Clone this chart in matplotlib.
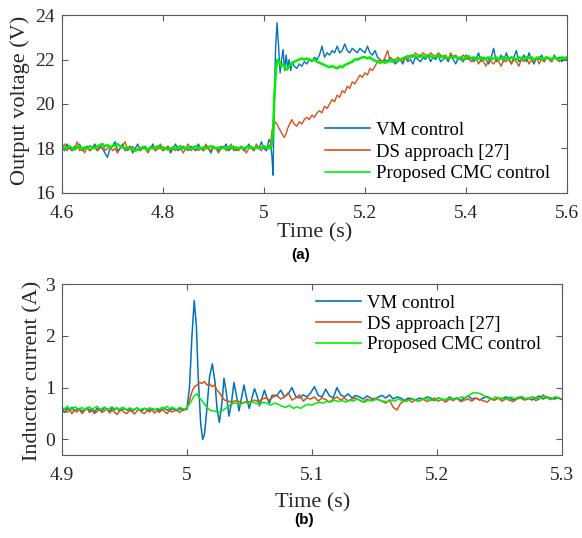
import numpy as np
import matplotlib
matplotlib.use('Agg')
import matplotlib.pyplot as plt

plt.rcParams['font.family'] = ['Liberation Serif', 'DejaVu Serif']

# colours (MATLAB default order, bright green for the proposed method)
c_vm = '#0072BD'
c_ds = '#D95319'
c_cmc = '#00F000'
labels = ['VM control', 'DS approach [27]', 'Proposed CMC control']

# ---------------- (a) output voltage ----------------
top_dt = 0.005

vm_v_pre = [18.1, 17.9, 18.2, 18.0, 17.9, 18.1, 18.0, 18.2, 17.9, 18.0,
            18.1, 17.9, 18.0, 18.2, 17.9, 18.1, 18.0, 17.8, 17.6, 18.0,
            18.1, 18.3, 17.9, 18.0, 18.2, 17.9, 18.0, 18.1, 17.8, 18.0,
            18.2, 17.9, 18.0, 18.1, 17.9, 18.0, 18.2, 17.9, 18.0, 18.1,
            17.9, 18.0, 18.1, 17.8, 18.0, 18.2, 17.9, 18.0, 18.1, 18.0,
            17.9, 18.1, 18.0, 17.9, 18.2, 18.0, 17.9, 18.1, 18.0, 17.8,
            18.1, 18.0, 17.9, 18.1, 18.0, 18.2, 17.9, 18.0, 18.1, 17.9,
            18.0, 18.1, 17.9, 18.0, 18.2, 18.0, 17.9, 18.1, 18.0, 18.3,
            18.0, 17.9, 18.4]
vm_t_step = [5.013, 5.016, 5.018, 5.020, 5.023, 5.026, 5.029, 5.032, 5.035, 5.038,
             5.041, 5.044, 5.047, 5.050, 5.053, 5.056, 5.060]
vm_v_step = [18.3, 17.6, 16.8, 19.5, 22.5, 23.65, 22.6, 21.4, 22.0, 22.45,
             21.5, 22.2, 21.6, 22.0, 21.5, 21.9, 21.7]
vm_v_post = [21.6, 21.8, 21.7, 21.9, 21.8, 22.0, 21.9, 22.1, 22.0, 22.2,
             22.6, 22.1, 22.3, 22.2, 22.4, 22.3, 22.6, 22.3, 22.4, 22.7,
             22.4, 22.3, 22.5, 22.4, 22.3, 22.5, 22.4, 22.3, 22.6, 22.3,
             22.2, 22.4, 22.1, 22.0, 21.9, 22.0, 21.9, 22.1, 22.0, 21.8,
             21.9, 22.0, 21.8, 22.1, 21.9, 22.0, 21.8, 22.1, 22.0, 21.9,
             22.1, 22.0, 22.2, 21.9, 22.1, 22.0, 22.2, 21.9, 22.0, 22.1,
             21.9, 22.2, 22.0, 21.8, 22.1, 22.0, 21.9, 22.2, 22.0, 22.1,
             21.9, 22.0, 22.3, 21.9, 22.1, 22.0, 21.8, 22.1, 22.5, 21.9,
             22.0, 22.2, 21.9, 22.3, 22.0, 21.8, 22.1, 22.4, 21.9, 22.0,
             22.2, 21.9, 22.3, 22.0, 21.8, 22.1, 22.0, 22.2, 21.9, 22.1,
             22.0, 21.9, 22.2, 22.0, 22.1, 21.9, 22.1, 22.0]

ds_v_pre = [18.0, 18.2, 17.9, 18.1, 17.9, 18.0, 18.3, 17.9, 18.0, 17.8,
            18.1, 17.9, 18.0, 18.1, 17.9, 18.0, 18.2, 17.9, 18.0, 18.1,
            17.9, 18.0, 17.8, 18.0, 18.1, 18.3, 17.9, 18.0, 18.1, 17.9,
            18.0, 17.9, 18.1, 18.0, 17.8, 18.0, 18.1, 17.9, 18.0, 18.2,
            17.9, 18.0, 18.1, 17.9, 18.0, 17.9, 18.1, 18.0, 17.8, 18.0,
            18.2, 17.9, 18.0, 18.1, 17.9, 18.0, 17.9, 18.2, 18.0, 17.9,
            18.1, 18.0, 17.8, 18.0, 18.1, 17.9, 18.0, 18.2, 17.9, 18.0,
            17.9, 18.1, 18.0, 17.8, 18.0, 18.1, 17.9, 18.2, 18.0, 17.9,
            18.1, 18.0, 18.1]
ds_t_step = [5.013, 5.016, 5.019, 5.022, 5.026, 5.030, 5.035, 5.040, 5.043, 5.047,
             5.051, 5.055, 5.060, 5.065]
ds_v_step = [18.2, 18.8, 19.0, 19.2, 19.1, 18.9, 18.7, 18.5, 18.6, 18.9,
             19.1, 19.3, 19.1, 19.0]
ds_v_rise = [19.2, 19.1, 19.3, 19.4, 19.3, 19.5, 19.4, 19.6, 19.7, 19.6,
             19.9, 19.8, 20.0, 20.2, 20.1, 20.4, 20.3, 20.6, 20.5, 20.8,
             20.7, 21.0, 20.9, 21.1, 21.3, 21.2, 21.4, 21.3, 21.6, 21.5,
             21.7, 21.9]
ds_v_post = [22.0, 21.9, 22.1, 22.4, 21.9, 22.0, 21.9, 22.1, 22.0, 21.9,
             22.1, 22.0, 22.2, 22.1, 22.3, 22.2, 22.1, 22.3, 22.2, 22.1,
             22.3, 22.2, 22.1, 22.3, 22.2, 22.1, 22.2, 22.0, 22.3, 22.1,
             22.2, 22.0, 22.1, 22.2, 22.0, 22.1, 21.9, 22.0, 22.1, 21.8,
             22.0, 21.9, 21.7, 22.0, 21.9, 21.8, 22.0, 21.9, 21.7, 22.0,
             21.9, 22.1, 21.8, 22.0, 21.9, 21.7, 22.0, 21.9, 22.1, 21.8,
             22.0, 21.9, 22.1, 21.8, 22.0, 21.9, 22.1, 22.0, 21.9, 22.1,
             22.0, 21.9, 22.1, 22.0, 22.1]

cmc_v_pre = [18.1, 18.0, 18.05, 18.1, 18.0, 17.95, 18.05, 18.1, 18.0, 18.05,
             18.0, 18.1, 18.05, 18.0, 18.1, 18.15, 18.2, 18.1, 18.15, 18.05,
             18.1, 18.15, 18.2, 18.1, 18.05, 18.0, 18.05, 18.0, 17.95, 17.9,
             17.95, 18.0, 18.05, 18.0, 17.95, 18.05, 18.0, 18.05, 18.1, 18.0,
             18.05, 18.0, 17.95, 18.0, 18.05, 18.0, 18.05, 18.1, 18.0, 18.05,
             18.0, 18.0, 18.05, 18.1, 18.05, 18.0, 18.05, 18.0, 18.05, 18.1,
             18.05, 18.0, 18.05, 18.0, 18.05, 18.0, 18.05, 18.1, 18.0, 18.05,
             18.0, 18.05, 18.0, 18.05, 18.1, 18.05, 18.0, 18.05, 18.0, 18.05,
             18.1, 18.05, 18.0, 18.1]
cmc_t_step = [5.018, 5.021, 5.024, 5.027, 5.030, 5.034, 5.038, 5.042, 5.046, 5.050,
              5.055, 5.060]
cmc_v_step = [18.8, 20.5, 21.6, 22.0, 21.9, 21.7, 21.8, 21.6, 21.55, 21.7,
              21.8, 21.9]
cmc_v_post = [21.95, 22.0, 22.05, 22.0, 22.05, 22.0, 21.95, 22.0, 21.9, 21.85,
              21.8, 21.75, 21.7, 21.65, 21.7, 21.65, 21.6, 21.7, 21.65, 21.75,
              21.8, 21.85, 21.9, 22.0, 22.0, 22.05, 22.1, 22.1, 22.05, 22.1,
              22.0, 21.95, 21.9, 21.85, 21.9, 21.85, 21.9, 21.95, 21.9, 22.0,
              21.95, 22.0, 22.05, 22.1, 22.15, 22.1, 22.2, 22.15, 22.1, 22.2,
              22.15, 22.1, 22.2, 22.15, 22.1, 22.15, 22.2, 22.1, 22.15, 22.1,
              22.05, 22.1, 22.15, 22.1, 22.05, 22.1, 22.0, 22.1, 22.15, 22.05,
              22.1, 22.0, 22.05, 22.1, 22.0, 22.05, 22.1, 22.0, 22.05, 22.1,
              22.0, 22.05, 22.1, 22.05, 22.0, 22.1, 22.05, 22.0, 22.1, 22.05,
              22.0, 22.1, 22.05, 22.1, 22.0, 22.05, 22.1, 22.0, 22.05, 22.1,
              22.05, 22.0, 22.1, 22.05, 22.0, 22.1, 22.05, 22.1]

# ---------------- (b) inductor current ----------------
bot_dt_pre = 0.002
bot_dt_post = 0.003

vm_i_pre = [0.58, 0.52, 0.6, 0.56, 0.62, 0.55, 0.58, 0.6, 0.54, 0.57,
            0.61, 0.56, 0.59, 0.53, 0.6, 0.57, 0.55, 0.62, 0.58, 0.54,
            0.6, 0.57, 0.61, 0.55, 0.58, 0.6, 0.56, 0.59, 0.54, 0.58,
            0.61, 0.57, 0.55, 0.6, 0.58, 0.56, 0.6, 0.57, 0.59, 0.55,
            0.58, 0.6, 0.57, 0.56, 0.59, 0.58, 0.55, 0.6, 0.57, 0.58]
vm_t_osc = [5.000, 5.002, 5.004, 5.0058, 5.0075, 5.009, 5.011, 5.0126, 5.014, 5.016,
            5.018, 5.0203, 5.0225, 5.024, 5.0259, 5.028, 5.0296, 5.0315, 5.0336, 5.0356,
            5.0376, 5.0396, 5.0416, 5.0436, 5.0456, 5.0477, 5.0498, 5.052, 5.054, 5.056,
            5.058, 5.060, 5.062, 5.064, 5.066, 5.068]
vm_i_osc = [0.6, 1.0, 2.0, 2.68, 2.2, 1.2, 0.3, 0.0, 0.1, 0.6,
            1.2, 1.46, 1.1, 0.6, 0.33, 0.7, 1.18, 0.9, 0.45, 0.7,
            1.1, 0.85, 0.55, 0.8, 1.05, 0.8, 0.6, 0.8, 0.98, 0.85,
            0.65, 0.8, 0.95, 0.8, 0.7, 0.85]
vm_i_post = [0.85, 0.95, 0.82, 0.88, 1.0, 0.83, 0.8, 0.86, 0.82, 0.9,
             1.02, 0.85, 0.82, 0.97, 0.84, 0.8, 1.0, 0.86, 0.82, 0.88,
             0.8, 0.85, 0.82, 0.78, 0.84, 0.8, 0.76, 0.82, 0.85, 0.8,
             0.86, 0.78, 0.82, 0.8, 0.75, 0.8, 0.78, 0.76, 0.8, 0.77,
             0.82, 0.8, 0.75, 0.8, 0.78, 0.76, 0.82, 0.78, 0.8, 0.75,
             0.8, 0.84, 0.78, 0.8, 0.76, 0.8, 0.83, 0.79, 0.76, 0.8,
             0.78, 0.82, 0.8, 0.76, 0.8, 0.82, 0.78, 0.8, 0.76, 0.8,
             0.84, 0.78, 0.82, 0.8, 0.78, 0.8, 0.77]

ds_i_pre = [0.55, 0.6, 0.52, 0.57, 0.5, 0.56, 0.53, 0.58, 0.5, 0.55,
            0.6, 0.52, 0.56, 0.5, 0.54, 0.58, 0.52, 0.55, 0.6, 0.51,
            0.56, 0.53, 0.48, 0.55, 0.57, 0.52, 0.5, 0.56, 0.54, 0.49,
            0.55, 0.58, 0.52, 0.5, 0.56, 0.53, 0.57, 0.51, 0.55, 0.52,
            0.58, 0.54, 0.5, 0.56, 0.53, 0.55, 0.58, 0.52, 0.56, 0.57]
ds_t_osc = [5.000, 5.002, 5.004, 5.006, 5.008, 5.010, 5.012, 5.014, 5.016, 5.018,
            5.020, 5.022, 5.024, 5.026, 5.028, 5.030, 5.033, 5.036, 5.039, 5.042,
            5.045, 5.048, 5.051, 5.054, 5.057, 5.060, 5.063, 5.066, 5.069]
ds_i_osc = [0.58, 0.75, 0.92, 1.02, 1.05, 1.1, 1.08, 1.12, 1.05, 1.08,
            1.02, 1.05, 0.95, 0.9, 0.82, 0.76, 0.74, 0.72, 0.75, 0.73,
            0.7, 0.74, 0.72, 0.76, 0.73, 0.78, 0.8, 0.76, 0.82]
ds_i_post = [0.85, 0.78, 0.82, 0.9, 0.76, 0.8, 0.86, 0.74, 0.8, 0.78,
             0.82, 0.74, 0.8, 0.77, 0.72, 0.78, 0.82, 0.76, 0.8, 0.74,
             0.78, 0.8, 0.76, 0.72, 0.78, 0.75, 0.8, 0.77, 0.74, 0.7,
             0.76, 0.62, 0.57, 0.7, 0.74, 0.78, 0.72, 0.76, 0.74, 0.78,
             0.73, 0.76, 0.8, 0.74, 0.77, 0.72, 0.78, 0.75, 0.8, 0.73,
             0.76, 0.78, 0.74, 0.8, 0.77, 0.75, 0.72, 0.78, 0.76, 0.8,
             0.74, 0.78, 0.76, 0.73, 0.78, 0.8, 0.76, 0.78, 0.82, 0.75,
             0.78, 0.86, 0.8, 0.77, 0.82, 0.8, 0.78]

cmc_i_pre = [0.62, 0.58, 0.64, 0.6, 0.57, 0.63, 0.6, 0.58, 0.62, 0.56,
             0.6, 0.63, 0.58, 0.61, 0.64, 0.59, 0.6, 0.62, 0.57, 0.6,
             0.63, 0.59, 0.61, 0.58, 0.62, 0.6, 0.57, 0.61, 0.59, 0.58,
             0.6, 0.57, 0.59, 0.6, 0.58, 0.61, 0.59, 0.57, 0.6, 0.58,
             0.62, 0.6, 0.64, 0.59, 0.62, 0.6, 0.57, 0.62, 0.6, 0.58]
cmc_t_osc = [5.000, 5.003, 5.006, 5.008, 5.010, 5.013, 5.016, 5.019, 5.022, 5.025,
             5.028, 5.031, 5.034, 5.037, 5.040, 5.043, 5.046, 5.049, 5.052, 5.055,
             5.058, 5.061, 5.064, 5.067, 5.070]
cmc_i_osc = [0.62, 0.72, 0.85, 0.88, 0.8, 0.72, 0.62, 0.56, 0.55, 0.52,
             0.55, 0.6, 0.65, 0.7, 0.7, 0.68, 0.72, 0.7, 0.73, 0.7,
             0.68, 0.72, 0.7, 0.66, 0.7]
cmc_i_post = [0.68, 0.64, 0.62, 0.66, 0.6, 0.63, 0.6, 0.65, 0.68, 0.66,
              0.7, 0.72, 0.7, 0.74, 0.72, 0.76, 0.73, 0.75, 0.72, 0.76,
              0.74, 0.78, 0.75, 0.72, 0.76, 0.74, 0.78, 0.76, 0.74, 0.72,
              0.76, 0.74, 0.78, 0.75, 0.73, 0.76, 0.78, 0.74, 0.76, 0.8,
              0.77, 0.75, 0.78, 0.8, 0.76, 0.78, 0.8, 0.77, 0.79, 0.82,
              0.8, 0.86, 0.9, 0.9, 0.88, 0.84, 0.8, 0.78, 0.82, 0.79,
              0.8, 0.77, 0.82, 0.79, 0.8, 0.83, 0.78, 0.8, 0.82, 0.79,
              0.8, 0.84, 0.8, 0.78, 0.82, 0.8]


def sampled(t0, dt, vals):
    return t0 + dt * np.arange(len(vals)), np.array(vals)


def join(*parts):
    t = np.concatenate([p[0] for p in parts])
    v = np.concatenate([p[1] for p in parts])
    return t, v


vm_top = join(sampled(4.6, top_dt, vm_v_pre), (np.array(vm_t_step), np.array(vm_v_step)),
              sampled(5.065, top_dt, vm_v_post))
ds_top = join(sampled(4.6, top_dt, ds_v_pre), (np.array(ds_t_step), np.array(ds_v_step)),
              sampled(5.07, top_dt, ds_v_rise), sampled(5.23, top_dt, ds_v_post))
cmc_top = join(sampled(4.6, top_dt, cmc_v_pre), (np.array(cmc_t_step), np.array(cmc_v_step)),
               sampled(5.065, top_dt, cmc_v_post))

vm_bot = join(sampled(4.9, bot_dt_pre, vm_i_pre), (np.array(vm_t_osc), np.array(vm_i_osc)),
              sampled(5.072, bot_dt_post, vm_i_post))
ds_bot = join(sampled(4.9, bot_dt_pre, ds_i_pre), (np.array(ds_t_osc), np.array(ds_i_osc)),
              sampled(5.072, bot_dt_post, ds_i_post))
cmc_bot = join(sampled(4.9, bot_dt_pre, cmc_i_pre), (np.array(cmc_t_osc), np.array(cmc_i_osc)),
               sampled(5.073, bot_dt_post, cmc_i_post))

fig = plt.figure(figsize=(5.82, 5.38), dpi=100)
ax1 = fig.add_axes([0.1065, 0.6413, 0.8675, 0.3308])
ax2 = fig.add_axes([0.1065, 0.1543, 0.859, 0.3178])


def style(ax):
    for s in ax.spines.values():
        s.set_color('#5a5a5a')
        s.set_linewidth(0.8)
    ax.tick_params(direction='in', top=True, right=True, length=4, width=0.8,
                   colors='#5a5a5a', labelcolor='#262626', labelsize=14)
    ax.tick_params(axis='x', pad=9)
    ax.tick_params(axis='y', pad=5)


ax1.plot(*vm_top, color=c_vm, lw=1.0, label=labels[0])
ax1.plot(*ds_top, color=c_ds, lw=1.0, label=labels[1])
ax1.plot(*cmc_top, color=c_cmc, lw=1.8, label=labels[2])
ax1.set_xlim(4.6, 5.6)
ax1.set_ylim(16, 24)
ax1.set_xticks([4.6, 4.8, 5.0, 5.2, 5.4, 5.6])
ax1.set_xticklabels(['4.6', '4.8', '5', '5.2', '5.4', '5.6'])
ax1.set_yticks([16, 18, 20, 22, 24])
style(ax1)
ax1.set_xlabel('Time (s)', fontsize=16, color='#262626')
ax1.xaxis.set_label_coords(0.501, -0.225)
ax1.xaxis.label.set_va('center')
ax1.set_ylabel('Output voltage (V)', fontsize=16, color='#262626')
ax1.yaxis.set_label_coords(-0.083, 0.52)
ax1.yaxis.label.set_va('center')
leg1 = ax1.legend(loc='center left', bbox_to_anchor=(0.5584, 0.7175), bbox_transform=fig.transFigure,
                  frameon=False, fontsize=13.5, handlelength=2.4, handletextpad=0.3,
                  labelspacing=0.24, borderpad=0, borderaxespad=0)
for h in leg1.get_lines():
    h.set_linewidth(1.2)

ax2.plot(*vm_bot, color=c_vm, lw=1.1, label=labels[0])
ax2.plot(*ds_bot, color=c_ds, lw=1.1, label=labels[1])
ax2.plot(*cmc_bot, color=c_cmc, lw=1.1, label=labels[2])
ax2.set_xlim(4.9, 5.3)
ax2.set_ylim(-0.3, 3)
ax2.set_xticks([4.9, 5.0, 5.1, 5.2, 5.3])
ax2.set_xticklabels(['4.9', '5', '5.1', '5.2', '5.3'])
ax2.set_yticks([0, 1, 2, 3])
style(ax2)
ax2.set_xlabel('Time (s)', fontsize=16, color='#262626')
ax2.xaxis.set_label_coords(0.502, -0.28)
ax2.xaxis.label.set_va('center')
ax2.set_ylabel('Inductor current (A)', fontsize=16, color='#262626')
ax2.yaxis.set_label_coords(-0.058, 0.49)
ax2.yaxis.label.set_va('center')
leg2 = ax2.legend(loc='center left', bbox_to_anchor=(0.543, 0.3978), bbox_transform=fig.transFigure,
                  frameon=False, fontsize=13.5, handlelength=2.4, handletextpad=0.3,
                  labelspacing=0.2, borderpad=0, borderaxespad=0)
for h in leg2.get_lines():
    h.set_linewidth(1.2)

fig.text(0.517, 0.526, '(a)', fontsize=11, fontweight='bold', family='Liberation Sans',
         ha='center', va='center')
fig.text(0.522, 0.033, '(b)', fontsize=11, fontweight='bold', family='Liberation Sans',
         ha='center', va='center')

fig.savefig('out.png', dpi=100)
